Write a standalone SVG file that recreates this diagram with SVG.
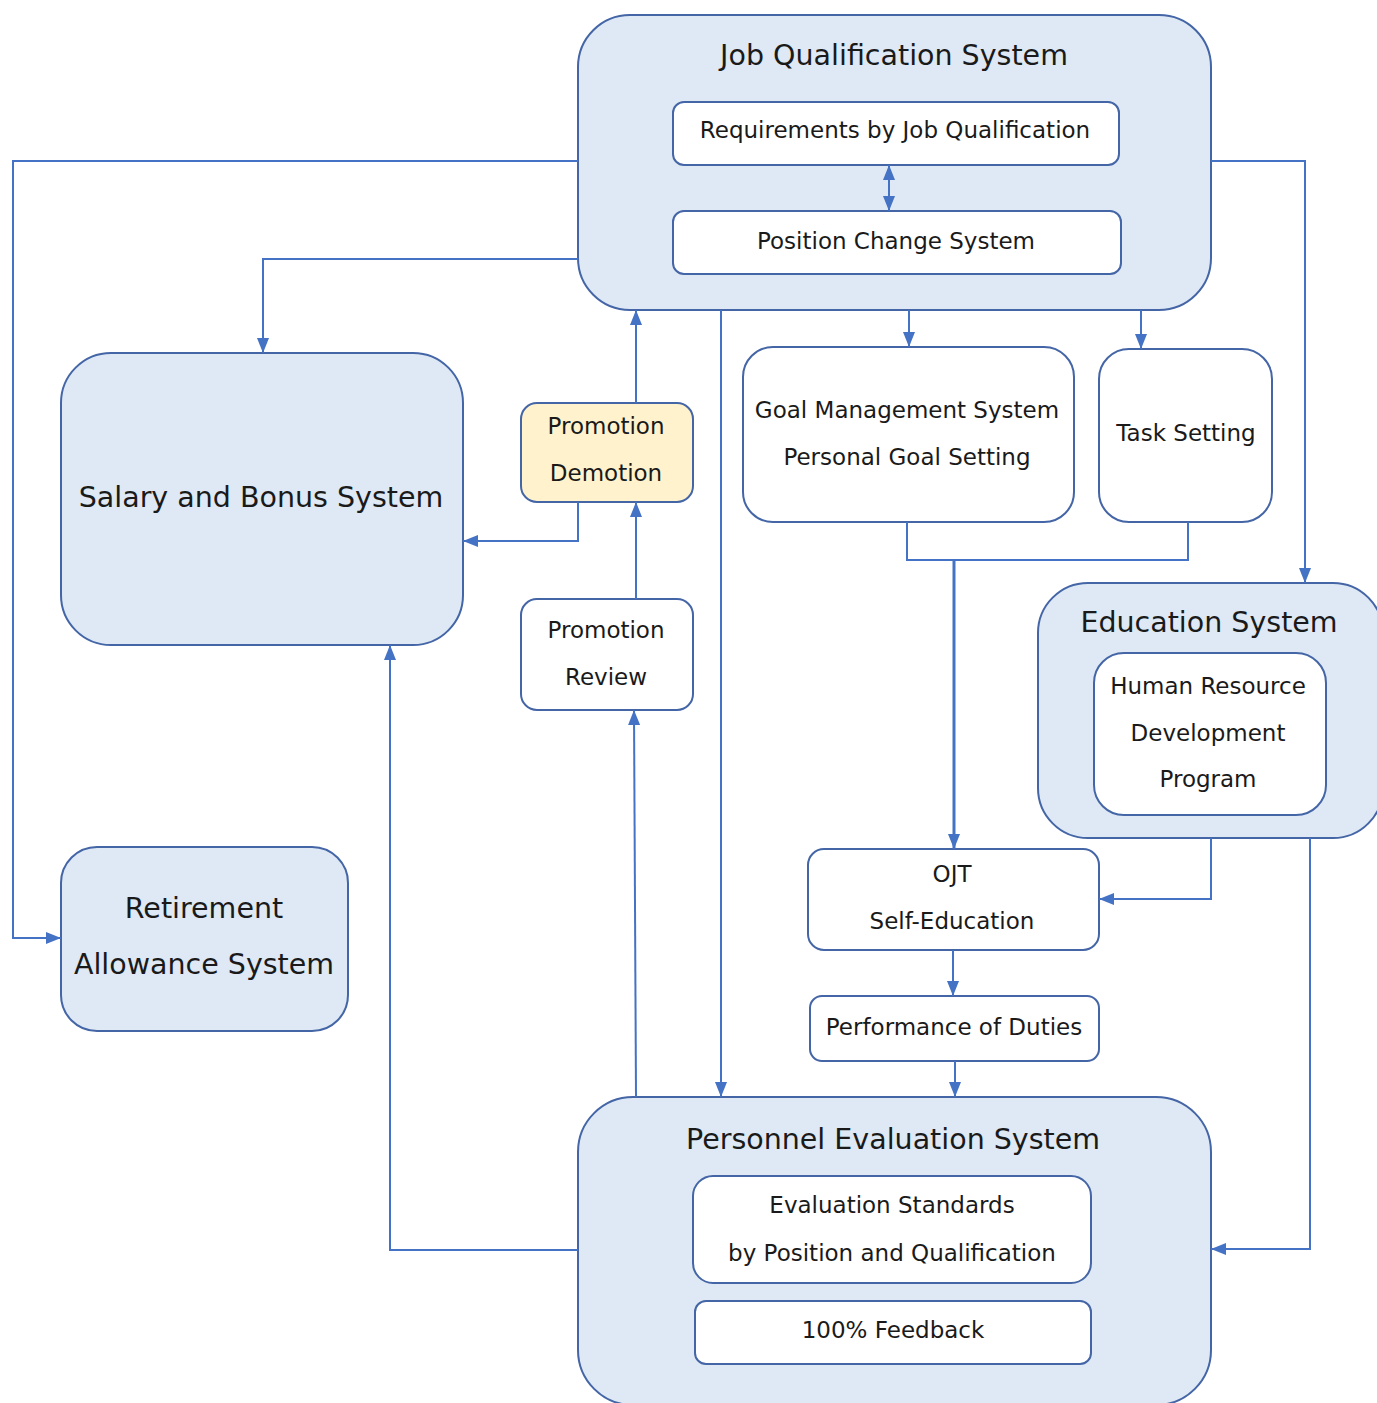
<svg xmlns="http://www.w3.org/2000/svg" width="1377" height="1403" viewBox="0 0 1377 1403">
<defs>
<style>
.sys{fill:#dee9f5;stroke:#4465a6;stroke-width:2}
.box{fill:#ffffff;stroke:#4465a6;stroke-width:2}
.yel{fill:#fff2cc;stroke:#4465a6;stroke-width:2}
text{font-family:"DejaVu Sans","Liberation Sans",sans-serif;fill:#1a1a1a;text-anchor:middle}
.t{font-size:28.5px}
.s{font-size:23px}
.c{fill:none;stroke:#4472c4;stroke-width:2}
</style>
<marker id="ah" viewBox="0 0 15 12" markerWidth="15" markerHeight="12" refX="15" refY="6" orient="auto-start-reverse" markerUnits="userSpaceOnUse">
<path d="M0,0 L15,6 L0,12 z" fill="#4472c4"/>
</marker>
</defs>
<rect width="1377" height="1403" fill="#ffffff"/>

<g id="job-qualification">
<rect class="sys" x="578" y="15" width="633" height="295" rx="52"/>
<text class="t" x="894" y="65">Job Qualification System</text>
<rect class="box" x="673" y="102" width="446" height="63" rx="11"/>
<text class="s" x="895" y="138">Requirements by Job Qualification</text>
<rect class="box" x="673" y="211" width="448" height="63" rx="11"/>
<text class="s" x="896" y="249">Position Change System</text>
</g>

<g id="salary-bonus">
<rect class="sys" x="61" y="353" width="402" height="292" rx="50"/>
<text class="t" x="261" y="507">Salary and Bonus System</text>
</g>

<g id="promotion-demotion">
<rect class="yel" x="521" y="403" width="172" height="99" rx="16"/>
<text class="s" x="606" y="434">Promotion</text>
<text class="s" x="606" y="481">Demotion</text>
</g>

<g id="promotion-review">
<rect class="box" x="521" y="599" width="172" height="111" rx="16"/>
<text class="s" x="606" y="638">Promotion</text>
<text class="s" x="606" y="685">Review</text>
</g>

<g id="goal-management">
<rect class="box" x="743" y="347" width="331" height="175" rx="30"/>
<text class="s" x="907" y="418">Goal Management System</text>
<text class="s" x="907" y="465">Personal Goal Setting</text>
</g>

<g id="task-setting">
<rect class="box" x="1099" y="349" width="173" height="173" rx="30"/>
<text class="s" x="1186" y="441">Task Setting</text>
</g>

<g id="education">
<rect class="sys" x="1038" y="583" width="345" height="255" rx="50"/>
<text class="t" x="1209" y="632">Education System</text>
<rect class="box" x="1094" y="653" width="232" height="162" rx="30"/>
<text class="s" x="1208" y="694">Human Resource</text>
<text class="s" x="1208" y="741">Development</text>
<text class="s" x="1208" y="787">Program</text>
</g>

<g id="retirement">
<rect class="sys" x="61" y="847" width="287" height="184" rx="36"/>
<text class="t" x="204" y="918">Retirement</text>
<text class="t" x="204" y="974">Allowance System</text>
</g>

<g id="ojt">
<rect class="box" x="808" y="849" width="291" height="101" rx="16"/>
<text class="s" x="952" y="882">OJT</text>
<text class="s" x="952" y="929">Self-Education</text>
</g>

<g id="performance">
<rect class="box" x="810" y="996" width="289" height="65" rx="12"/>
<text class="s" x="954" y="1035">Performance of Duties</text>
</g>

<g id="personnel-evaluation">
<rect class="sys" x="578" y="1097" width="633" height="308" rx="55"/>
<text class="t" x="893" y="1149">Personnel Evaluation System</text>
<rect class="box" x="693" y="1176" width="398" height="107" rx="20"/>
<text class="s" x="892" y="1213">Evaluation Standards</text>
<text class="s" x="892" y="1261">by Position and Qualification</text>
<rect class="box" x="695" y="1301" width="396" height="63" rx="11"/>
<text class="s" x="893" y="1338">100% Feedback</text>
</g>

<g id="connectors">
<path class="c" d="M578,161 H13 V938 H61" marker-end="url(#ah)"/>
<path class="c" d="M578,259 H263 V353" marker-end="url(#ah)"/>
<path class="c" d="M578,502 V541 H463" marker-end="url(#ah)"/>
<path class="c" d="M636,403 V310" marker-end="url(#ah)"/>
<path class="c" d="M636,599 V502" marker-end="url(#ah)"/>
<path class="c" d="M636,1097 L634,710" marker-end="url(#ah)"/>
<path class="c" d="M721,310 V1097" marker-end="url(#ah)"/>
<path class="c" d="M909,310 V347" marker-end="url(#ah)"/>
<path class="c" d="M1141,310 V349" marker-end="url(#ah)"/>
<path class="c" d="M1211,161 H1305 V583" marker-end="url(#ah)"/>
<path class="c" d="M907,522 V560 H1188 V522"/>
<path class="c" d="M954,560 V849" style="stroke-width:3" marker-end="url(#ah)"/>
<path class="c" d="M1211,838 V899 H1099" marker-end="url(#ah)"/>
<path class="c" d="M1310,838 V1249 H1211" marker-end="url(#ah)"/>
<path class="c" d="M953,950 V996" marker-end="url(#ah)"/>
<path class="c" d="M955,1061 V1097" marker-end="url(#ah)"/>
<path class="c" d="M578,1250 H390 V645" marker-end="url(#ah)"/>
<path class="c" d="M889,165 V211" marker-start="url(#ah)" marker-end="url(#ah)"/>
</g>
</svg>
